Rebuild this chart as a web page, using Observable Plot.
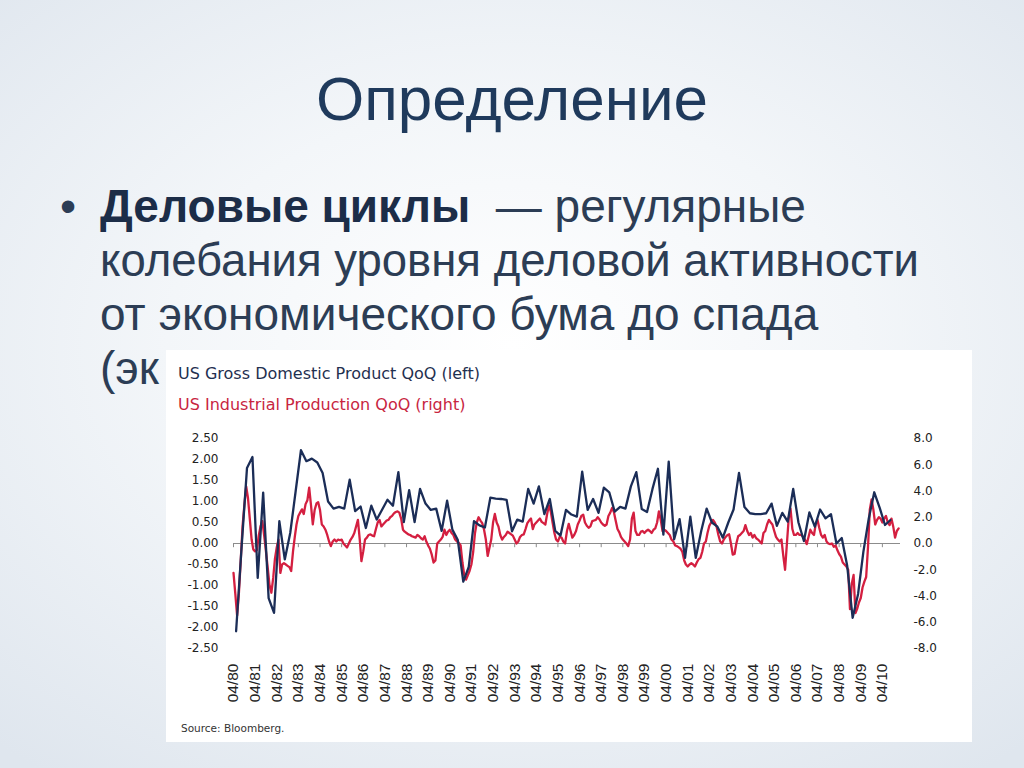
<!DOCTYPE html>
<html><head><meta charset="utf-8">
<script src="https://cdn.jsdelivr.net/npm/d3@7"></script>
<script src="https://cdn.jsdelivr.net/npm/@observablehq/plot@0.6"></script>
<style>
html,body{margin:0;padding:0;}
body{width:1024px;height:768px;overflow:hidden;position:relative;
 background: radial-gradient(ellipse 75% 70% at 50% 45%, #ffffff 0%, #f3f6f9 45%, #dfe6ee 100%);}
#slide{position:absolute;left:0;top:0;}
#box{position:absolute;left:166px;top:350px;width:806px;height:392px;background:#ffffff;}
.ct{position:absolute;left:12px;font-family:"DejaVu Sans",sans-serif;font-size:16px;line-height:16px;white-space:nowrap;}
#t1{top:16px;color:#1f3050;}
#t2{top:47px;color:#c8253f;}
#src{position:absolute;left:15px;top:373px;font-family:"DejaVu Sans",sans-serif;font-size:10.5px;line-height:11px;color:#333;}
#chart{position:absolute;left:0;top:70px;}
</style></head>
<body>
<svg id="slide" width="1024" height="768">
  <text x="512" y="120" text-anchor="middle" font-family="Liberation Sans" font-size="62" fill="#1f3a5c">Определение</text>
  <text x="60" y="222" font-family="Liberation Sans" font-size="46" fill="#2c3d55">•</text>
  <text x="100" y="222" font-family="Liberation Sans" font-size="46" fill="#2c3d55" xml:space="preserve"><tspan font-weight="bold" fill="#1c2d48">Деловые циклы</tspan>  — регулярные</text>
  <text x="100" y="276" font-family="Liberation Sans" font-size="45.5" fill="#2c3d55">колебания уровня деловой активности</text>
  <text x="100" y="330" font-family="Liberation Sans" font-size="46" fill="#2c3d55">от экономического бума до спада</text>
  <text x="100" y="384" font-family="Liberation Sans" font-size="46" fill="#2c3d55">(эк</text>
</svg>
<div id="box">
  <div class="ct" id="t1">US Gross Domestic Product QoQ (left)</div>
  <div class="ct" id="t2">US Industrial Production QoQ (right)</div>
  <div id="chart"></div>
  <div id="src">Source: Bloomberg.</div>
</div>
<script>
// US GDP QoQ %, quarterly from Q2 1980 (left axis)
const gdp = [
 -2.09, -0.1, 1.8, 2.06, -0.82, 1.21, -1.3, -1.65, 0.53, -0.38,
 0.25, 1.25, 2.22, 1.96, 2.02, 1.93, 1.68, 1.0, 0.83, 0.87,
 0.83, 1.52, 0.77, 0.88, 0.37, 0.9, 0.57, 0.81, 1.04, 0.9,
 1.70, 0.51, 1.27, 0.51, 1.3, 0.95, 0.8, 0.83, 0.3, 1.02,
 0.33, 0.08, -0.91, -0.56, 0.53, 0.43, 0.38, 1.09, 1.07, 1.06,
 1.04, 0.29, 0.57, 0.52, 1.30, 0.95, 1.36, 0.7, 1.06, 0.3,
 0.19, 0.8, 0.69, 0.64, 1.71, 0.8, 1.06, 0.73, 1.33, 1.22,
 0.76, 0.87, 0.83, 1.36, 1.70, 0.82, 0.75, 1.3, 1.78, 0.21,
 1.95, 0.1, 0.58, -0.34, 0.64, -0.34, 0.3, 0.83, 0.5, 0.4,
 0.14, 0.5, 0.81, 1.68, 0.87, 0.72, 0.70, 0.70, 0.72, 0.95,
 0.42, 0.73, 0.52, 1.30, 0.5, 0.06, 0.74, 0.4, 0.81, 0.6,
 0.7, 0.0, 0.13, -0.53, -1.77, -1.2, -0.2, 0.6, 1.22, 0.85,
 0.44, 0.56
];
// US Industrial Production QoQ %, monthly from April 1980 (right axis)
const ip = [
 -2.24, -3.8, -5.5, -3.8, -1.3, 1.3, 2.9, 4.35, 3.5, 1.9, 0.3, -0.45,
 -0.6, -0.5, 0.6, 1.3, 1.7, 0.6, -0.6, -1.9, -3.2, -3.75, -2.6, -1.2,
 -0.3, 0.3, -2.24, -1.6, -1.5, -1.6, -1.7, -1.8, -2.1, -0.6, 0.55, 1.45,
 2.1, 2.35, 2.6, 2.25, 3.0, 3.3, 4.25, 2.9, 1.45, 2.55, 3.05, 3.15,
 2.55, 1.45, 1.3, 1.05, 0.65, 0.15, -0.2, 0.15, 0.3, 0.15, 0.3, 0.25,
 0.3, 0.0, -0.15, -0.3, 0.0, 0.3, 0.5, 0.8, 1.3, 1.8, 0.3, -1.35,
 -0.6, 0.3, 0.45, 0.65, 0.7, 0.6, 0.55, 1.1, 1.6, 1.8, 1.3, 1.45,
 1.6, 1.75, 1.8, 2.0, 2.1, 2.3, 2.4, 2.45, 2.35, 1.9, 1.05, 0.9,
 0.8, 0.7, 0.65, 0.55, 0.5, 0.45, 0.65, 0.55, 0.4, 0.3, 0.55, 0.15,
 -0.15, -0.4, -0.85, -1.45, -1.3, 0.0, 0.15, 0.3, 0.5, 1.05, 0.65, 0.9,
 1.05, 0.8, 0.65, 0.3, 0.15, 0.05, -0.15, -1.45, -2.4, -2.75, -2.4, -2.1,
 -1.6, -0.65, 0.8, 1.6, 2.0, 1.75, 1.55, 1.05, 0.3, -0.95, -0.3, 0.3,
 1.6, 2.25, 1.6, 1.3, 0.65, 0.3, 0.5, 0.65, 0.9, 0.8, 0.7, 0.6,
 0.3, 0.0, 0.15, 0.5, 0.65, 0.7, 1.1, 1.55, 1.75, 1.9, 1.1, 1.45,
 1.6, 1.75, 1.9, 1.65, 1.55, 1.45, 2.25, 2.9, 2.45, 1.6, 0.8, 0.3,
 0.15, 0.5, 0.45, 0.15, 0.0, 0.95, 1.5, 0.95, 0.45, 0.65, 0.95, 1.45,
 1.75, 2.1, 2.2, 1.6, 1.35, 1.2, 1.3, 1.7, 1.75, 1.8, 2.0, 1.85,
 1.6, 1.45, 1.35, 1.45, 2.1, 2.35, 2.7, 2.4, 1.75, 1.1, 0.85, 0.5,
 0.3, 0.15, 0.0, -0.2, 0.3, 1.9, 2.35, 0.95, 0.65, 0.65, 0.9, 0.95,
 0.8, 0.95, 1.05, 0.95, 0.8, 1.05, 1.15, 1.6, 2.45, 1.8, 0.95, 1.05,
 0.95, 0.8, 0.65, 0.3, 0.15, -0.15, -0.2, -0.3, -0.4, -0.65, -1.3, -1.6,
 -1.75, -1.6, -1.5, -1.6, -1.75, -1.45, -1.2, -1.1, -0.65, 0.0, 0.15, 0.8,
 1.35, 1.6, 1.8, 1.6, 1.3, 0.65, 0.15, 0.0, 0.3, 0.5, 0.65, 0.7,
 0.0, -0.85, -0.8, 0.0, 0.55, 0.65, 0.8, 0.95, 1.4, 0.95, 0.65, 0.8,
 0.45, 0.65, 0.4, 0.3, 0.15, 0.0, 0.8, 0.95, 1.45, 1.8, 1.6, 1.45,
 0.95, 0.5, 0.3, 0.15, 0.3, -0.95, -2.0, 0.0, 1.9, 2.65, 1.1, 0.65,
 0.65, 0.8, 0.65, 0.65, 0.5, 0.3, -0.05, 0.5, 1.05, 0.8, 0.65, 1.45,
 1.8, 1.2, 0.65, 0.45, 0.65, 0.15, 0.0, -0.05, 0.0, -0.25, -0.15, -0.5,
 -0.8, -1.0, -1.45, -1.6, -1.75, -2.0, -5.0, -3.05, -2.4, -5.3, -4.95, -4.5,
 -4.15, -3.35, -2.9, -2.55, -0.3, 2.6, 3.35, 2.55, 1.45, 1.8, 2.0, 1.9,
 1.6, 1.9, 2.1, 1.6, 1.4, 1.9, 1.3, 0.45, 0.95, 1.15
];
const tickYears = d3.range(1980, 2011);
const tickLabels = tickYears.map(y => "04/" + String(y).slice(2));
const leftTicks = [2.5, 2.0, 1.5, 1.0, 0.5, 0, -0.5, -1.0, -1.5, -2.0, -2.5];
const rightTicks = [8, 6, 4, 2, 0, -2, -4, -6, -8];

const RATIO = 3.2; // right axis units per left axis unit
const gdpRows = gdp.map((v, i) => ({date: new Date(Date.UTC(1980, 4 + 3 * i, 15)), value: v}));
const ipRows = ip.map((v, m) => ({date: new Date(Date.UTC(1980, 3 + m, 1)), value: v}));
const tickDates = tickYears.map(y => new Date(Date.UTC(y, 3, 1)));
const labelOf = d => tickLabels[tickDates.findIndex(t => +t === +d)];

const chart = Plot.plot({
  width: 806, height: 300,
  marginLeft: 67, marginRight: 72, marginTop: 18, marginBottom: 72,
  style: {fontFamily: "DejaVu Sans, sans-serif", fontSize: "12px", background: "transparent", color: "#222", overflow: "visible"},
  x: {type: "utc", domain: [new Date(Date.UTC(1980, 3, 1)), new Date(Date.UTC(2011, 1, 1))]},
  y: {domain: [-2.5, 2.5]},
  marks: [
    Plot.ruleY([0], {stroke: "#8c8c8c", strokeWidth: 1}),
    Plot.ruleX(tickDates, {y1: 0, y2: -0.1, stroke: "#8c8c8c", strokeWidth: 1}),
    Plot.line(ipRows, {x: "date", y: d => d.value / RATIO, stroke: "#d41f40", strokeWidth: 2.3}),
    Plot.line(gdpRows, {x: "date", y: "value", stroke: "#1b2d57", strokeWidth: 2.3}),
    Plot.axisY(leftTicks, {anchor: "left", tickSize: 0, tickPadding: 15, tickFormat: d => d.toFixed(2), label: null}),
    Plot.axisY(rightTicks.map(v => v / RATIO), {anchor: "right", tickSize: 0, tickPadding: 13, textAnchor: "start", tickFormat: d => (d * RATIO).toFixed(1), label: null}),
    Plot.axisX(tickDates, {anchor: "bottom", tickSize: 0, tickPadding: 15, tickRotate: -90, tickFormat: labelOf, label: null, fontFamily: "Liberation Sans", fontSize: 15.5})
  ]
});
document.getElementById("chart").appendChild(chart);
</script>
</body></html>
